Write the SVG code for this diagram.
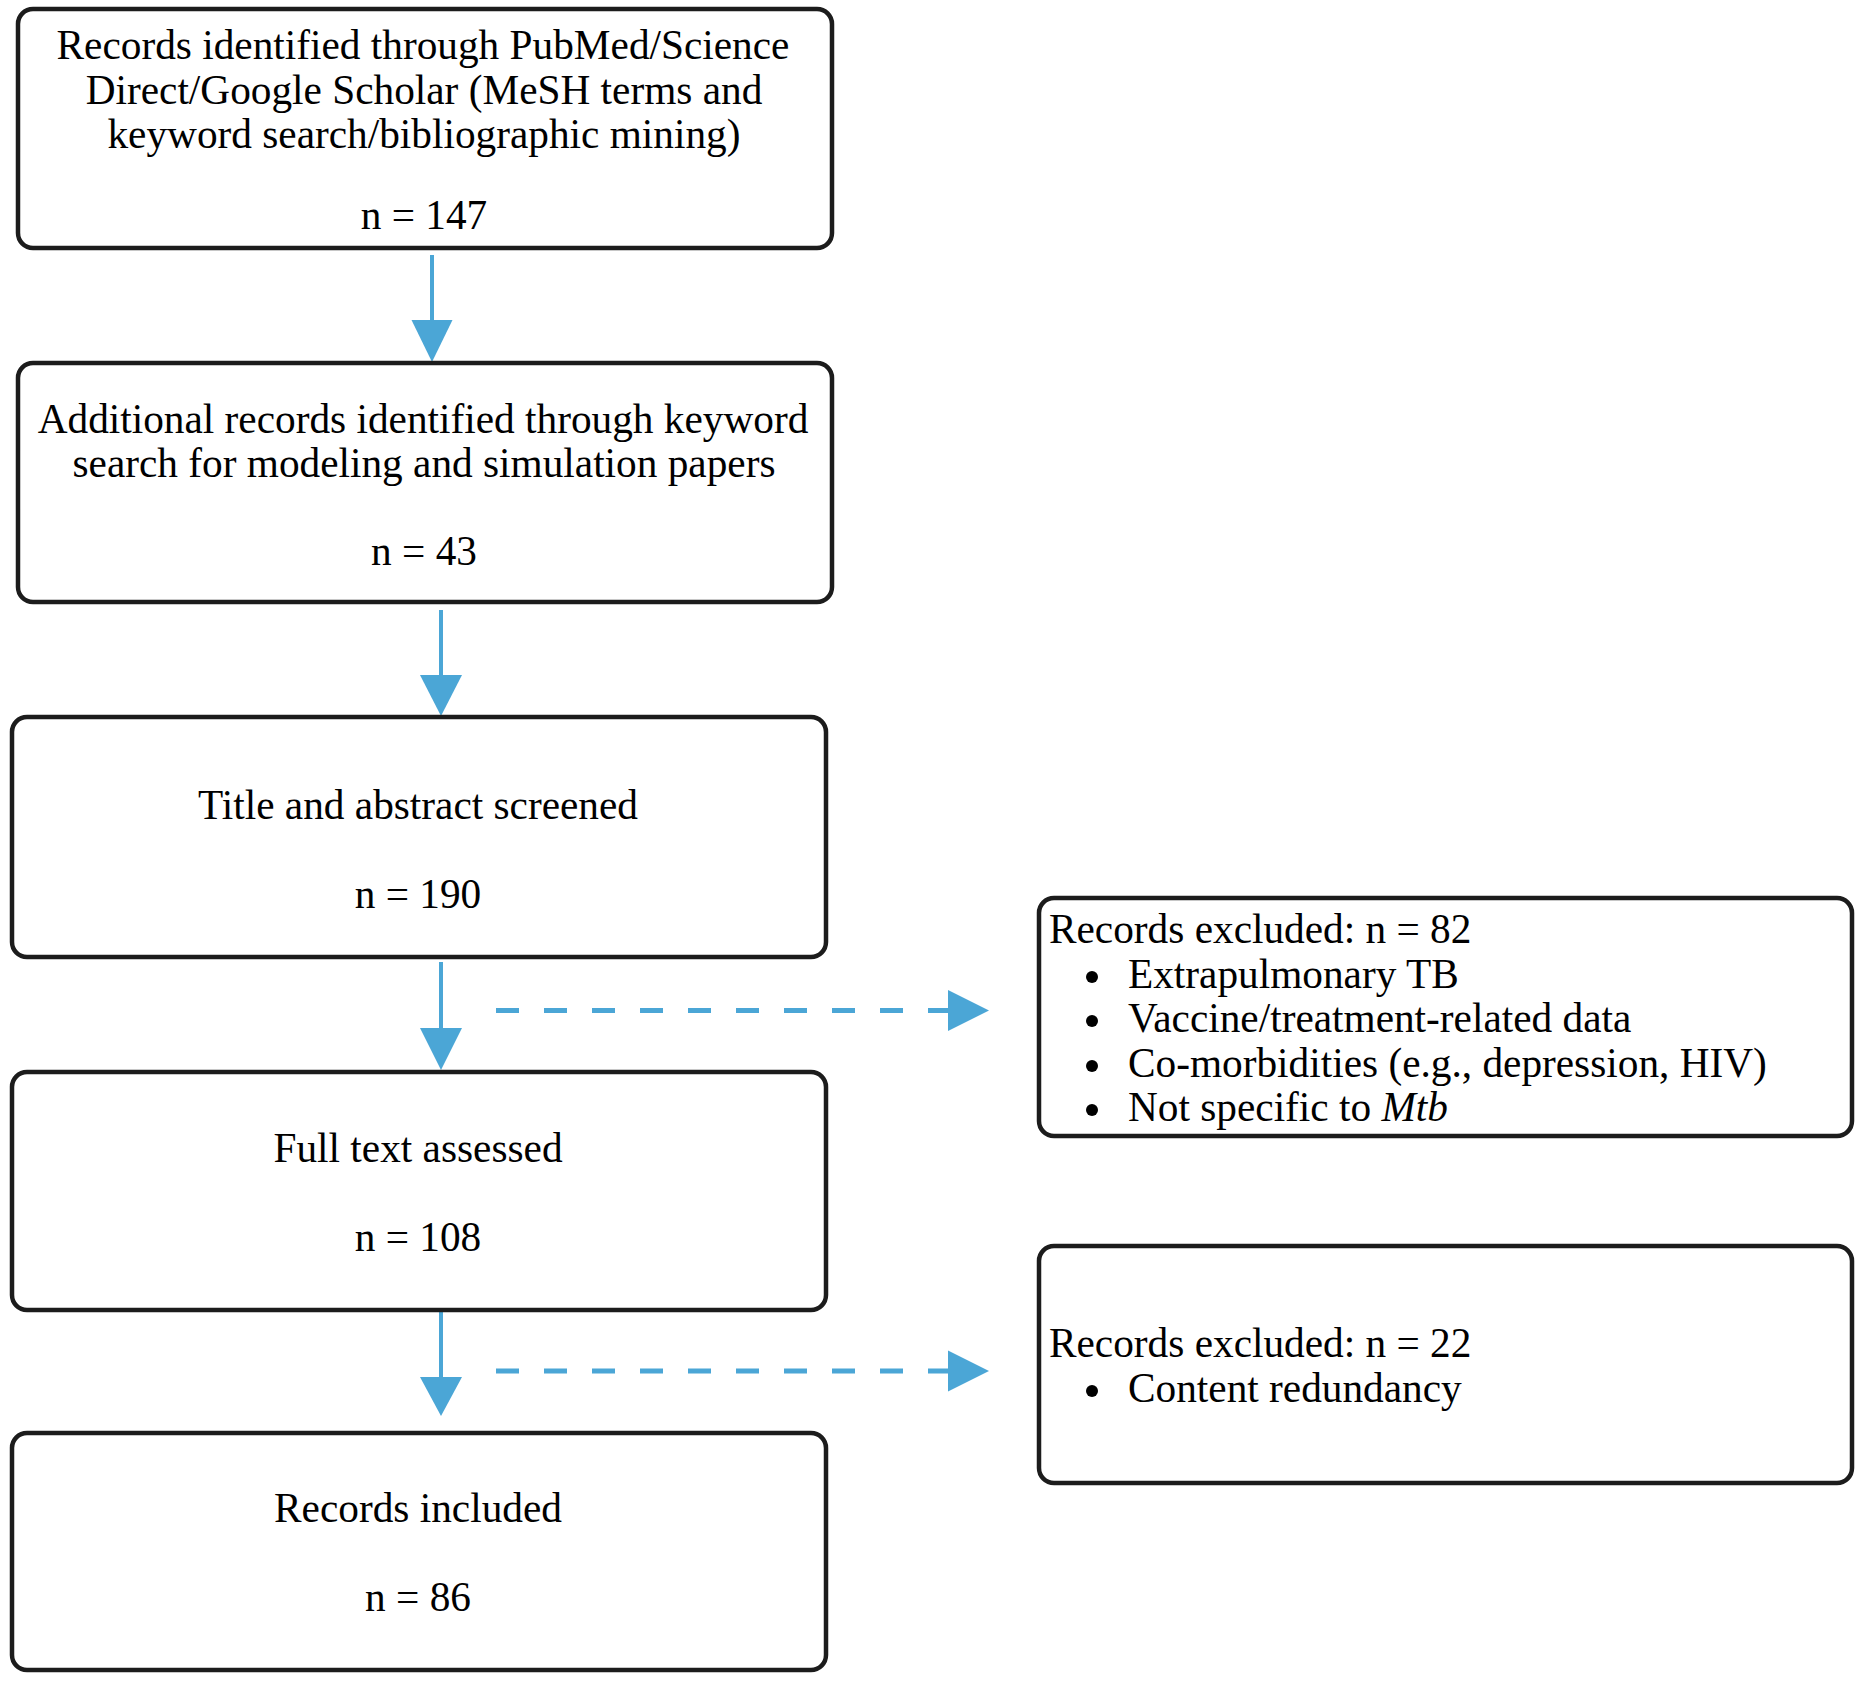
<svg xmlns="http://www.w3.org/2000/svg" width="1862" height="1683" viewBox="0 0 1862 1683">
<defs>
<style>
.box{fill:#ffffff;stroke:#1c1c1c;stroke-width:4.5}
.t{font-family:"Liberation Serif","Times New Roman",serif;font-size:41.3px;fill:#000000}
.c{text-anchor:middle}
.ln{stroke:#4ba6d6;stroke-width:4;fill:none}
.dash{stroke:#4ba6d6;stroke-width:5;fill:none;stroke-dasharray:23 25}
.hd{fill:#4ba6d6;stroke:none}
.bul{fill:#000000}
</style>
</defs>
<rect width="1862" height="1683" fill="#ffffff"/>
<g id="connectors">
<line class="ln" x1="432" y1="255" x2="432" y2="322"/>
<polygon class="hd" points="411.5,320 452.5,320 432,362"/>
<line class="ln" x1="441" y1="610" x2="441" y2="677"/>
<polygon class="hd" points="420,675 462,675 441,716"/>
<line class="ln" x1="441" y1="962" x2="441" y2="1030"/>
<polygon class="hd" points="420,1028 462,1028 441,1070"/>
<line class="ln" x1="441" y1="1311" x2="441" y2="1379"/>
<polygon class="hd" points="420,1377 462,1377 441,1416"/>
<line class="dash" x1="496" y1="1010.5" x2="950" y2="1010.5"/>
<polygon class="hd" points="948,990 948,1031 989,1010.5"/>
<line class="dash" x1="496" y1="1371" x2="950" y2="1371"/>
<polygon class="hd" points="948,1350.5 948,1391.5 989,1371"/>
</g>
<g id="node-identified">
<rect class="box" x="18" y="9" width="814" height="239" rx="15"/>
<text class="t c" x="423" y="59">Records identified through PubMed/Science</text>
<text class="t c" x="424" y="104">Direct/Google Scholar (MeSH terms and</text>
<text class="t c" x="424" y="148">keyword search/bibliographic mining)</text>
<text class="t c" x="424" y="229">n = 147</text>
</g>
<g id="node-additional">
<rect class="box" x="18" y="363" width="814" height="239" rx="15"/>
<text class="t c" x="423" y="433">Additional records identified through keyword</text>
<text class="t c" x="424" y="477">search for modeling and simulation papers</text>
<text class="t c" x="424" y="565">n = 43</text>
</g>
<g id="node-screened">
<rect class="box" x="12" y="717" width="814" height="240" rx="15"/>
<text class="t c" x="418" y="819">Title and abstract screened</text>
<text class="t c" x="418" y="908">n = 190</text>
</g>
<g id="node-fulltext">
<rect class="box" x="12" y="1072" width="814" height="238" rx="15"/>
<text class="t c" x="418" y="1162">Full text assessed</text>
<text class="t c" x="418" y="1251">n = 108</text>
</g>
<g id="node-included">
<rect class="box" x="12" y="1433" width="814" height="237" rx="15"/>
<text class="t c" x="418" y="1522">Records included</text>
<text class="t c" x="418" y="1611">n = 86</text>
</g>
<g id="node-excluded1">
<rect class="box" x="1039" y="898" width="813" height="238" rx="15"/>
<text class="t" x="1049" y="943">Records excluded: n = 82</text>
<circle class="bul" cx="1092" cy="977" r="6"/>
<text class="t" x="1128" y="988">Extrapulmonary TB</text>
<circle class="bul" cx="1092" cy="1021" r="6"/>
<text class="t" x="1128" y="1032">Vaccine/treatment-related data</text>
<circle class="bul" cx="1092" cy="1066" r="6"/>
<text class="t" x="1128" y="1077">Co-morbidities (e.g., depression, HIV)</text>
<circle class="bul" cx="1092" cy="1110" r="6"/>
<text class="t" x="1128" y="1121">Not specific to <tspan font-style="italic">Mtb</tspan></text>
</g>
<g id="node-excluded2">
<rect class="box" x="1039" y="1246" width="813" height="237" rx="15"/>
<text class="t" x="1049" y="1357">Records excluded: n = 22</text>
<circle class="bul" cx="1092" cy="1391" r="6"/>
<text class="t" x="1128" y="1402">Content redundancy</text>
</g>
</svg>
